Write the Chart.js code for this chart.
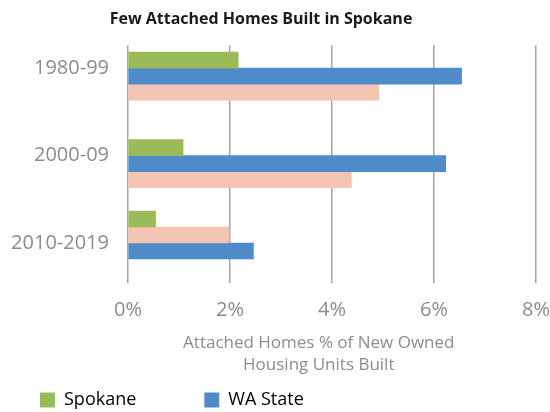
<!DOCTYPE html>
<html>
<head>
<meta charset="utf-8">
<script src="https://cdn.jsdelivr.net/npm/chart.js@4.4.1/dist/chart.umd.min.js"></script>
<style>
  body { margin: 0; background: #fff; }
  #wrap { width: 550px; height: 412px; }
</style>
</head>
<body>
<div id="wrap"><canvas id="mycanvas"></canvas></div>
<script>
var periods = ['1980-99', '2000-09', '2010-2019'];
var spokane = [2.16, 1.08, 0.54];
var waState = [6.54, 6.23, 2.46];
var thirdArea = [4.92, 4.38, 1.98];   // pink bars, not named in the legend
var xTickValues = [0, 2, 4, 6, 8];

// order of the bars inside each group, top to bottom (as in the original)
var slotOrder = [
	[null, 'spokane', 'wa', 'third'],
	[null, 'spokane', 'wa', 'third'],
	['spokane', 'third', 'wa', null]
];

var series = {
	spokane: { values: spokane, color: '#9bbb59' },
	wa: { values: waState, color: '#4f8ac9' },
	third: { values: thirdArea, color: '#f3c4b2' }
};

var greyText = '#8c8c8c';
var datasets = [];
for (var s = 0; s < 4; s++) {
	var data = [], colors = [];
	for (var i = 0; i < periods.length; i++) {
		var key = slotOrder[i][s];
		data.push({ y: i, x: key ? series[key].values[i] : null });
		colors.push(key ? series[key].color : 'rgba(0,0,0,0)');
	}
	datasets.push({
		label: 'slot ' + s,
		data: data,
		backgroundColor: colors,
		borderWidth: 0,
		barThickness: 16
	});
}

var ctx = document.getElementById('mycanvas');
var chart = new Chart(ctx, {
	type: 'bar',
	data: { datasets: datasets },
	options: {
		indexAxis: 'y',
		responsive: true,
		maintainAspectRatio: false,
		animation: false,
		layout: { padding: { left: -28, right: 0, top: 0, bottom: -7 } },
		plugins: {
			tooltip: { enabled: false },
			title: {
				display: true,
				text: 'Few Attached Homes Built in Spokane',
				color: '#1a1a1a',
				font: { family: 'Open Sans', size: 16, weight: 'bold' },
				padding: { top: 10, bottom: 16 }
			},
			legend: {
				position: 'bottom',
				align: 'start',
				labels: {
					boxWidth: 15,
					boxHeight: 15,
					padding: 68,
					color: '#7f7f7f',
					font: { family: 'Open Sans', size: 18 },
					generateLabels: function() {
						return [
							{ text: 'Spokane', fillStyle: series.spokane.color, strokeStyle: series.spokane.color, lineWidth: 0 },
							{ text: 'WA State', fillStyle: series.wa.color, strokeStyle: series.wa.color, lineWidth: 0 }
						];
					}
				}
			}
		},
		scales: {
			x: {
				type: 'linear',
				min: 0,
				max: 8,
				afterBuildTicks: function(scale) {
					scale.ticks = xTickValues.map(function(v) { return { value: v }; });
				},
				afterFit: function(scale) {
					scale.height = 48;
					scale.paddingRight = 14;
				},
				ticks: {
					color: greyText,
					font: { family: 'Open Sans', size: 20 },
					padding: 15,
					callback: function(v) { return v + '%'; }
				},
				grid: { color: '#a6a6a6', lineWidth: 1.5, tickLength: 8 },
				border: { display: false },
				title: {
					display: true,
					// trailing spaces pull the centred title a bit to the left, like the original
					text: ['Attached Homes % of New Owned\u00a0\u00a0\u00a0\u00a0\u00a0\u00a0', 'Housing Units Built\u00a0\u00a0\u00a0\u00a0\u00a0\u00a0'],
					color: greyText,
					font: { family: 'Open Sans', size: 17, lineHeight: 1.3 },
					padding: { top: 0, bottom: -53 }
				}
			},
			y: {
				type: 'linear',
				reverse: true,
				offset: false,
				min: -0.263,
				max: 2.366,
				afterBuildTicks: function(scale) {
					scale.ticks = periods.map(function(p, i) { return { value: i }; });
				},
				afterFit: function(scale) { scale.width = 156; },
				ticks: {
					color: greyText,
					font: { family: 'Open Sans', size: 20 },
					padding: 11,
					callback: function(v) { return periods[v]; }
				},
				grid: { display: false },
				border: { display: false }
			}
		}
	}
});
</script>
</body>
</html>
